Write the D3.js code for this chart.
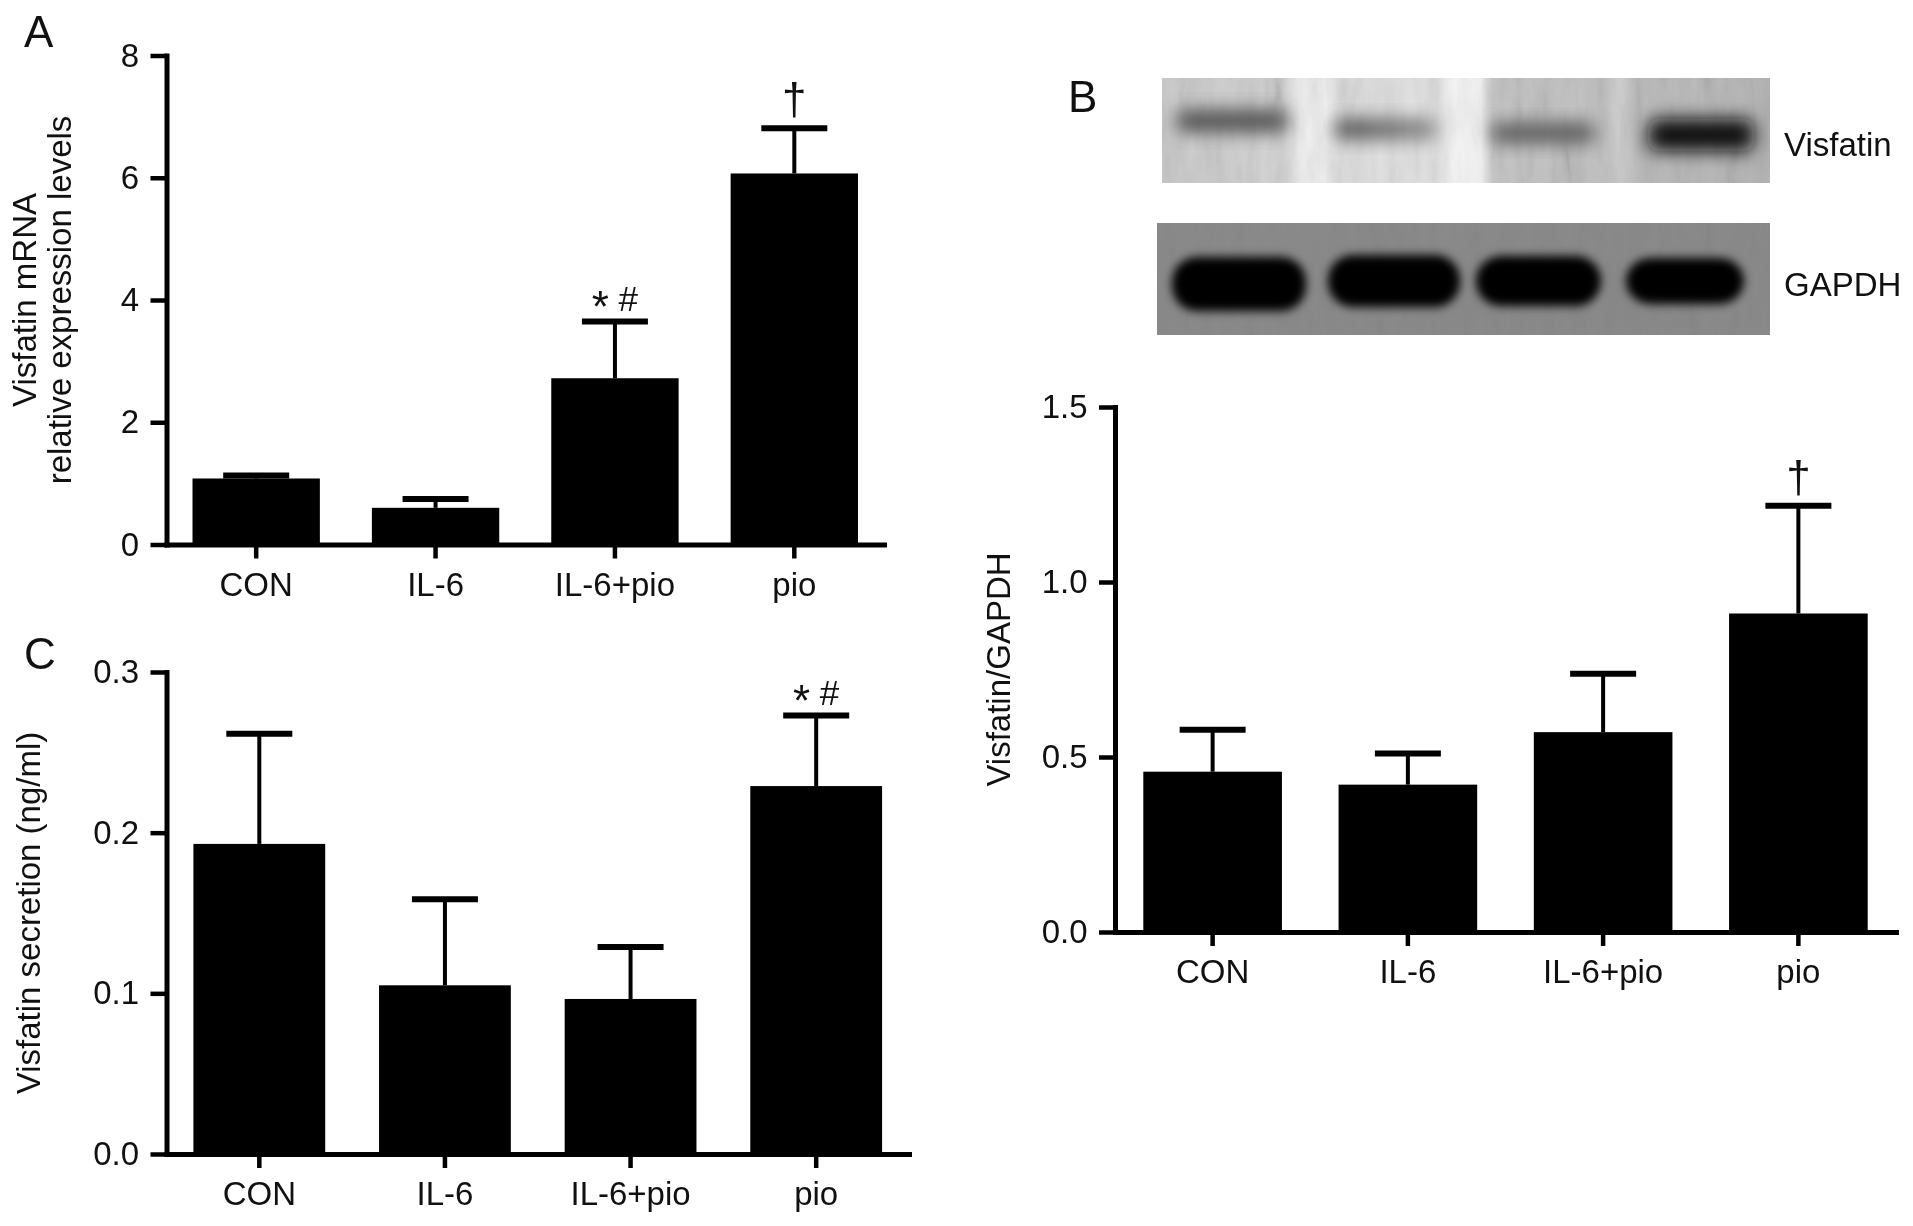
<!DOCTYPE html>
<html><head><meta charset="utf-8">
<script src="https://cdn.jsdelivr.net/npm/d3@7"></script>
<style>
body{margin:0;background:#fff;}
svg{display:block;font-family:"Liberation Sans",Arial,Helvetica,sans-serif;}
</style></head><body>
<svg id="fig" width="1913" height="1226"></svg>
<script>
const categories = ["CON", "IL-6", "IL-6+pio", "pio"];

// Panel A: Visfatin mRNA relative expression
const mrnaMeans = [1.08, 0.60, 2.72, 6.07];
const mrnaSEM = [0.05, 0.145, 0.93, 0.74];
const mrnaTicks = [0, 2, 4, 6, 8];
const mrnaMarks = ["", "", "* #", "†"];

// Panel B: Visfatin/GAPDH densitometry
const ratioMeans = [0.458, 0.421, 0.571, 0.910];
const ratioSEM = [0.120, 0.089, 0.167, 0.308];
const ratioTicks = [0, 0.5, 1.0, 1.5];
const ratioMarks = ["", "", "", "†"];

// Panel C: Visfatin secretion
const secretionMeans = [0.193, 0.105, 0.0965, 0.229];
const secretionSEM = [0.0685, 0.0535, 0.0323, 0.044];
const secretionTicks = [0, 0.1, 0.2, 0.3];
const secretionMarks = ["", "", "", "* #"];

const blotLabels = ["Visfatin", "GAPDH"];
const panelLetters = ["A", "B", "C"];

const svg = d3.select("#fig");
const defs = svg.append("defs");

function panel(o) {
  const g = svg.append("g");
  const x = d3.scaleBand().domain(categories).range([o.x0, o.x1])
    .paddingInner(0.29).paddingOuter(0.145);
  const y = d3.scaleLinear().domain([0, o.max]).range([o.y0, o.y1]);
  const cx = d => x(d) + x.bandwidth() / 2;

  g.selectAll("rect.bar").data(categories).join("rect").attr("class", "bar")
    .attr("x", d => x(d)).attr("width", x.bandwidth())
    .attr("y", (d, i) => y(o.means[i]))
    .attr("height", (d, i) => y(0) - y(o.means[i]))
    .attr("fill", "#000");

  g.selectAll("line.err").data(categories).join("line").attr("class", "err")
    .attr("x1", cx).attr("x2", cx)
    .attr("y1", (d, i) => y(o.means[i]))
    .attr("y2", (d, i) => y(o.means[i] + o.sem[i]))
    .attr("stroke", "#000").attr("stroke-width", 4);

  const cap = 66;
  g.selectAll("line.cap").data(categories).join("line").attr("class", "cap")
    .attr("x1", d => cx(d) - cap / 2).attr("x2", d => cx(d) + cap / 2)
    .attr("y1", (d, i) => y(o.means[i] + o.sem[i]))
    .attr("y2", (d, i) => y(o.means[i] + o.sem[i]))
    .attr("stroke", "#000").attr("stroke-width", 6);

  categories.forEach((d, i) => {
    const m = o.marks[i];
    if (!m) return;
    const top = y(o.means[i] + o.sem[i]);
    const t = g.append("text").attr("x", cx(d)).attr("text-anchor", "middle")
      .attr("fill", "#111");
    if (m.includes("*")) {
      t.attr("y", top - 10).attr("font-size", 35);
      t.append("tspan").text("*").attr("font-size", 44).attr("dy", 11);
      t.append("tspan").text(" #").attr("dy", -11);
    } else {
      t.attr("y", top - 14).attr("font-size", 44).text(m);
    }
  });

  const ya = g.append("g").attr("transform", `translate(${o.x0},0)`)
    .call(d3.axisLeft(y).tickValues(o.ticks).tickFormat(o.fmt)
      .tickSize(16).tickSizeOuter(0).tickPadding(11.5));
  const xa = g.append("g").attr("transform", `translate(0,${o.y0})`)
    .call(d3.axisBottom(x).tickSize(14).tickSizeOuter(0).tickPadding(14));
  [ya, xa].forEach(a => {
    a.select(".domain").attr("stroke", "#000").attr("stroke-width", 5)
      .attr("stroke-linecap", "square");
    a.selectAll(".tick line").attr("stroke", "#000").attr("stroke-width", 4.5);
    a.selectAll(".tick text").attr("font-size", 33).attr("fill", "#111")
      .attr("font-family", '"Liberation Sans",Arial,Helvetica,sans-serif');
  });

  const title = g.append("text").attr("text-anchor", "middle")
    .attr("font-size", 33).attr("fill", "#111")
    .attr("transform", `translate(${o.titleX},${(o.y0 + o.y1) / 2}) rotate(-90)`);
  o.title.forEach((line, k) => {
    title.append("tspan").attr("x", 0).attr("dy", k === 0 ? 0 : o.titleGap).text(line);
  });
}

panel({ x0: 166.5, x1: 884, y0: 544.5, y1: 55.5, max: 8,
  means: mrnaMeans, sem: mrnaSEM, ticks: mrnaTicks, marks: mrnaMarks,
  fmt: d3.format("d"), title: ["Visfatin mRNA", "relative expression levels"],
  titleX: 36, titleGap: 35 });

panel({ x0: 166.5, x1: 909, y0: 1154, y1: 672, max: 0.3,
  means: secretionMeans, sem: secretionSEM, ticks: secretionTicks, marks: secretionMarks,
  fmt: d3.format(".1f"), title: ["Visfatin secretion (ng/ml)"], titleX: 40, titleGap: 0 });

panel({ x0: 1115, x1: 1896, y0: 932, y1: 407, max: 1.5,
  means: ratioMeans, sem: ratioSEM, ticks: ratioTicks, marks: ratioMarks,
  fmt: d3.format(".1f"), title: ["Visfatin/GAPDH"], titleX: 1010, titleGap: 0 });

// Panel letters
const letterPos = [[24, 47], [1068, 112], [24, 669]];
panelLetters.forEach((l, i) => {
  svg.append("text").attr("x", letterPos[i][0]).attr("y", letterPos[i][1])
    .attr("font-size", 44).attr("fill", "#111").text(l);
});

// ---- Western blot images (decorative raster-like drawing) ----
const blur = (id, s) => defs.append("filter").attr("id", id)
  .attr("x", "-40%").attr("y", "-80%").attr("width", "180%").attr("height", "260%")
  .append("feGaussianBlur").attr("stdDeviation", s);
blur("b5", 5); blur("b9", 9);

const nf = defs.append("filter").attr("id", "noise").attr("x", 0).attr("y", 0)
  .attr("width", "100%").attr("height", "100%");
nf.append("feTurbulence").attr("type", "fractalNoise")
  .attr("baseFrequency", "0.07 0.015").attr("numOctaves", 3).attr("seed", 7);
nf.append("feColorMatrix").attr("type", "matrix")
  .attr("values", "0.33 0.33 0.33 0 0  0.33 0.33 0.33 0 0  0.33 0.33 0.33 0 0  0 0 0 0 1");
const ct = nf.append("feComponentTransfer");
["R", "G", "B"].forEach(c => ct.append("feFunc" + c).attr("type", "linear")
  .attr("slope", 2.2).attr("intercept", -0.55));

const clip = defs.append("clipPath").attr("id", "topclip");
clip.append("rect").attr("x", 1162).attr("y", 78).attr("width", 608).attr("height", 105);

const topGrad = defs.append("linearGradient").attr("id", "topbg")
  .attr("x1", 0).attr("x2", 1).attr("y1", 0).attr("y2", 0);
[[0, "#cbcbcb"], [0.2, "#d3d3d3"], [0.225, "#ededed"], [0.268, "#f2f2f2"],
 [0.29, "#dedede"], [0.45, "#e2e2e2"], [0.485, "#f6f6f6"], [0.525, "#f3f3f3"],
 [0.545, "#c6c6c6"], [0.72, "#c2c2c2"], [0.75, "#d0d0d0"], [0.785, "#bdbdbd"],
 [1, "#b7b7b7"]].forEach(s => topGrad.append("stop").attr("offset", s[0]).attr("stop-color", s[1]));

const bl = svg.append("g");
bl.append("rect").attr("x", 1162).attr("y", 78).attr("width", 608).attr("height", 105)
  .attr("fill", "url(#topbg)");
bl.append("rect").attr("x", 1162).attr("y", 78).attr("width", 608).attr("height", 105)
  .attr("filter", "url(#noise)").attr("opacity", 0.13)
  .style("mix-blend-mode", "multiply");
// visfatin bands
const l2g = defs.append("linearGradient").attr("id", "l2g").attr("x1", 0).attr("x2", 1);
l2g.append("stop").attr("offset", 0).attr("stop-color", "#4a4a4a");
l2g.append("stop").attr("offset", 1).attr("stop-color", "#8c8c8c");
const bandsG = bl.append("g").attr("clip-path", "url(#topclip)");
[[1176, 110, 112, 22, "#505050"], [1334, 119, 104, 20, "url(#l2g)"],
 [1490, 123, 106, 20, "#5a5a5a"], [1648, 119, 106, 32, "#0a0a0a"]]
  .forEach(b => bandsG.append("rect").attr("x", b[0]).attr("y", b[1]).attr("width", b[2])
    .attr("height", b[3]).attr("rx", 10).attr("fill", b[4]).attr("filter", "url(#b9)"));

bl.append("rect").attr("x", 1157).attr("y", 223).attr("width", 613).attr("height", 112)
  .attr("fill", "#8a8a8a");
bl.append("rect").attr("x", 1157).attr("y", 223).attr("width", 613).attr("height", 112)
  .attr("filter", "url(#noise)").attr("opacity", 0.06)
  .style("mix-blend-mode", "multiply");
[[1172, 257, 134, 54], [1328, 255, 132, 52], [1476, 256, 125, 50], [1626, 258, 118, 46]]
  .forEach(b => bl.append("rect").attr("x", b[0]).attr("y", b[1]).attr("width", b[2])
    .attr("height", b[3]).attr("rx", 25).attr("fill", "#030303").attr("filter", "url(#b5)"));

[[1784, 156], [1784, 296]].forEach((p, i) => {
  svg.append("text").attr("x", p[0]).attr("y", p[1]).attr("font-size", 33)
    .attr("fill", "#111").text(blotLabels[i]);
});
</script>
</body></html>
